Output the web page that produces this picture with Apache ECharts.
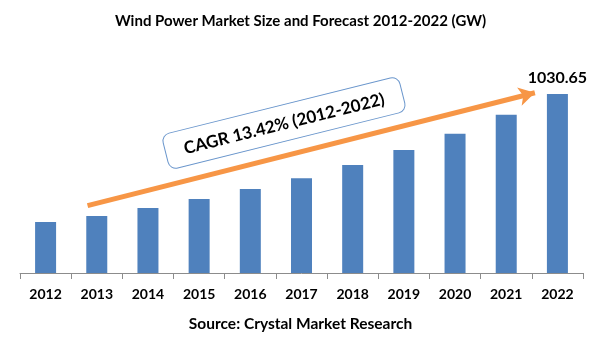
<!DOCTYPE html>
<html><head><meta charset="utf-8">
<script src="https://cdn.jsdelivr.net/npm/echarts@6/dist/echarts.min.js"></script>
<style>html,body{margin:0;padding:0;background:#fff}#c{width:601px;height:361px}</style>
</head><body><div id="c"></div>
<script>
var years = ['2012','2013','2014','2015','2016','2017','2018','2019','2020','2021','2022'];
var marketSize = [293.6, 328, 374, 426, 484, 545, 622, 708, 802, 911, 1030.65];
var labelledYear = '2022';
var titleText = 'Wind Power Market Size and Forecast 2012-2022 (GW)';
var sourceText = 'Source: Crystal Market Research';
var cagrText = 'CAGR 13.42% (2012-2022)';
// arrow start/end in data space: [category position, value]
var arrowStart = [0.82, 388];
var arrowEnd = [9.56, 1038];

var FONT = 'Lato';
var chart = echarts.init(document.getElementById('c'), null, {renderer:'canvas'});
var barData = marketSize.map(function(v,i){
  if (years[i] === labelledYear) {
    return {value:v, label:{show:true, position:'top', distance:8, formatter:function(p){return p.value.toFixed(2);}, fontFamily:FONT, fontWeight:'bold', fontSize:16, color:'#000'}};
  }
  return v;
});
var option = {
  animation:false,
  title:[{text:titleText, left:'center', top:9, textStyle:{fontFamily:FONT, fontWeight:'bold', fontSize:15, color:'#000'}},
         {text:sourceText, left:'center', top:311, textStyle:{fontFamily:FONT, fontWeight:'bold', fontSize:15.5, color:'#000'}}],
  grid:{left:20, right:18, top:64.6, bottom:88},
  xAxis:[{type:'category', data:years, boundaryGap:true,
    axisLine:{lineStyle:{color:'#8c8c8c', width:1}},
    axisTick:{show:true, length:6, lineStyle:{color:'#8c8c8c'}},
    axisLabel:{fontFamily:FONT, fontWeight:'bold', fontSize:14, color:'#000', margin:14}},
    {type:'value', min:-0.5, max:10.5, show:false}],
  yAxis:{type:'value', min:0, max:1200, show:false, splitLine:{show:false}},
  series:[{type:'bar', data:barData, barWidth:21, itemStyle:{color:'#4F81BD'}, xAxisIndex:0},
    {type:'line', xAxisIndex:1, data:[], silent:true,
     markLine:{silent:true, symbol:['none','arrow'], symbolSize:[14,16], label:{show:false},
       lineStyle:{color:'#F79646', width:5, type:'solid'},
       data:[[{coord:arrowStart},{coord:arrowEnd}]]}}],
  graphic:[{type:'group', x:284, y:123, rotation:14*Math.PI/180, children:[
    {type:'rect', shape:{x:-122, y:-18, width:244, height:36, r:8}, style:{fill:'#fff', stroke:'#6A96CC', lineWidth:1}},
    {type:'text', x:0, y:1, style:{text:cagrText, fontFamily:FONT, fontWeight:'bold', fontSize:17, fill:'#000', align:'center', verticalAlign:'middle'}}
  ]}]
};
chart.setOption(option);
</script></body></html>
